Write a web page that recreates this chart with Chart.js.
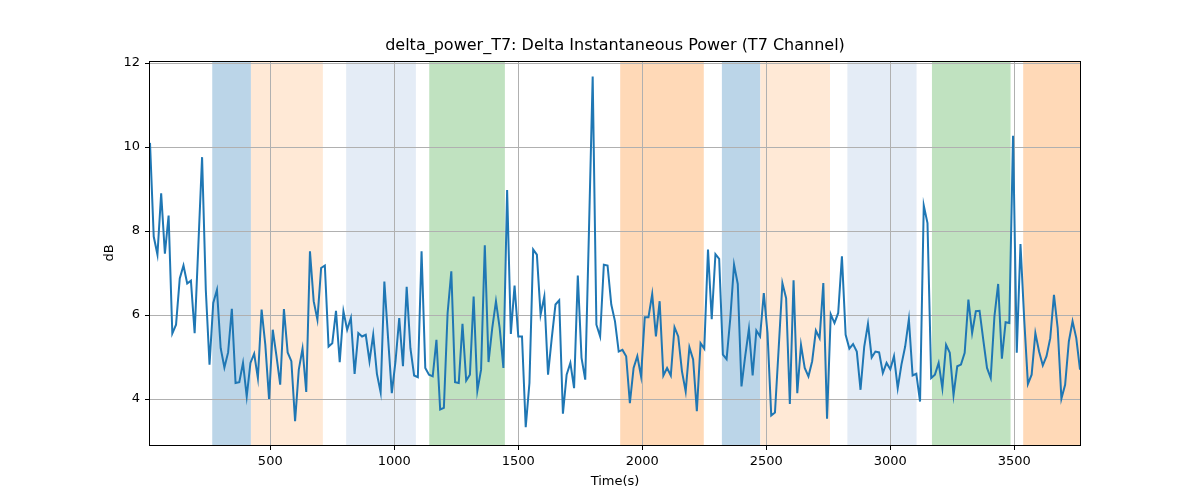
<!DOCTYPE html>
<html>
<head>
<meta charset="utf-8">
<script src="https://cdn.jsdelivr.net/npm/chart.js@4/dist/chart.umd.min.js"></script>
<style>
html,body{margin:0;padding:0;background:#fff;}
#wrap{width:1200px;height:500px;}
</style>
</head>
<body>
<div id="wrap"><canvas id="c" width="1200" height="500"></canvas></div>
<script>
// ---- data ----
const chartTitle = "delta_power_T7: Delta Instantaneous Power (T7 Channel)";
const xLabel = "Time(s)";
const yLabel = "dB";
const timeStart = 15;   // seconds, first sample
const timeStep = 15;    // seconds between samples
const deltaPower = [
  10.1, 7.87, 7.44, 8.9, 7.46, 8.37, 5.56, 5.77, 6.87, 7.18,
  6.75, 6.82, 5.57, 7.67, 9.76, 6.6, 4.82, 6.29, 6.6, 5.21,
  4.75, 5.11, 6.15, 4.38, 4.4, 4.86, 4.06, 4.86, 5.08, 4.5,
  6.13, 5.29, 4.0, 5.65, 5.02, 4.34, 6.14, 5.11, 4.9, 3.47,
  4.7, 5.2, 4.17, 7.52, 6.33, 5.89, 7.12, 7.18, 5.25, 5.33,
  6.1, 4.88, 6.09, 5.65, 5.93, 4.6, 5.57, 5.49, 5.53, 4.9,
  5.53, 4.6, 4.16, 6.8, 5.45, 4.14, 4.9, 5.93, 4.78, 6.67,
  5.21, 4.56, 4.52, 7.52, 4.74, 4.58, 4.54, 5.41, 3.75, 3.79,
  6.05, 7.04, 4.4, 4.38, 5.79, 4.44, 4.58, 6.44, 4.2, 4.7,
  7.66, 4.88, 5.69, 6.33, 5.69, 4.74, 8.98, 5.55, 6.7, 5.49,
  5.49, 3.33, 4.38, 7.56, 7.44, 6.01, 6.44, 4.58, 5.45, 6.25,
  6.35, 3.65, 4.58, 4.86, 4.26, 6.94, 4.98, 4.46, 8.0, 11.68,
  5.77, 5.49, 7.2, 7.18, 6.25, 5.85, 5.13, 5.17, 5.02, 3.9,
  4.74, 5.02, 4.54, 5.95, 5.95, 6.5, 5.49, 6.33, 4.56, 4.74,
  4.56, 5.71, 5.49, 4.66, 4.18, 5.23, 4.94, 3.71, 5.33, 5.2,
  7.56, 5.9, 7.45, 7.34, 5.06, 4.95, 5.93, 7.2, 6.74, 4.3,
  5.02, 5.67, 4.56, 5.63, 5.49, 6.52, 5.57, 3.61, 3.68, 5.21,
  6.76, 6.4, 3.88, 6.83, 4.14, 5.29, 4.74, 4.54, 4.9, 5.63,
  5.45, 6.76, 3.53, 6.02, 5.81, 6.05, 7.4, 5.53, 5.2, 5.31,
  5.13, 4.22, 5.25, 5.79, 4.99, 5.13, 5.11, 4.62, 4.86, 4.71,
  5.02, 4.26, 4.82, 5.25, 5.9, 4.56, 4.6, 3.94, 8.61, 8.19,
  4.5, 4.58, 4.86, 4.26, 5.29, 5.1, 4.09, 4.78, 4.82, 5.1,
  6.37, 5.57, 6.09, 6.1, 5.41, 4.74, 4.5, 5.97, 6.74, 4.96,
  5.83, 5.81, 10.27, 5.1, 7.69, 5.9, 4.36, 4.58, 5.57, 5.13,
  4.8, 5.02, 5.45, 6.48, 5.69, 4.01, 4.34, 5.37, 5.85, 5.45,
  4.7
];
const xTicks = [500, 1000, 1500, 2000, 2500, 3000, 3500];
const yTicks = [4, 6, 8, 10, 12];
const xLimits = [15, 3765];
const yLimits = [2.905, 12.05];
// shaded intervals (seconds) and their kind
const spanStarts = [266, 422, 806, 1141, 1911, 2321, 2476, 2827, 3168, 3536];
const spanEnds   = [422, 712, 1087, 1446, 2248, 2476, 2757, 3106, 3485, 3800];
const spanKinds  = ['A', 'B', 'C', 'D', 'E', 'A', 'B', 'C', 'D', 'E'];

// ---- styles ----
const spanColors = {
  A: 'rgb(187,213,232)',
  B: 'rgb(255,233,214)',
  C: 'rgb(228,236,246)',
  D: 'rgb(192,226,192)',
  E: 'rgb(255,217,183)'
};
const FONT = "'DejaVu Sans', 'Liberation Sans', sans-serif";
Chart.defaults.font.family = FONT;
Chart.defaults.color = '#000';

const points = deltaPower.map((v, i) => ({ x: timeStart + i * timeStep, y: v }));

const spanPlugin = {
  id: 'spans',
  beforeDraw(chart) {
    const { ctx, chartArea: a, scales: { x } } = chart;
    ctx.save();
    ctx.beginPath();
    ctx.rect(a.left, a.top, a.right - a.left, a.bottom - a.top);
    ctx.clip();
    for (let i = 0; i < spanStarts.length; i++) {
      const x0 = x.getPixelForValue(spanStarts[i]);
      const x1 = x.getPixelForValue(spanEnds[i]);
      ctx.fillStyle = spanColors[spanKinds[i]];
      ctx.fillRect(x0, a.top, x1 - x0, a.bottom - a.top);
    }
    ctx.restore();
  }
};
const framePlugin = {
  id: 'frame',
  afterDraw(chart) {
    const { ctx, chartArea: a } = chart;
    ctx.save();
    ctx.strokeStyle = '#000';
    ctx.lineWidth = 1;
    ctx.strokeRect(Math.round(a.left) - 0.5, Math.round(a.top) + 0.5,
                   Math.round(a.right - a.left) + 1, Math.round(a.bottom - a.top));
    ctx.restore();
  }
};

new Chart(document.getElementById('c'), {
  type: 'line',
  data: {
    datasets: [{
      data: points,
      borderColor: '#1f77b4',
      borderWidth: 2,
      pointRadius: 0,
      pointHoverRadius: 0,
      tension: 0,
      fill: false
    }]
  },
  options: {
    responsive: false,
    animation: false,
    devicePixelRatio: 1,
    events: [],
    layout: { padding: { left: 0, right: 120, top: 0, bottom: 0 } },
    plugins: {
      legend: { display: false },
      tooltip: { enabled: false },
      title: {
        display: true,
        fullSize: false,
        text: chartTitle,
        color: '#000',
        font: { family: FONT, size: 16, weight: 'normal', lineHeight: 1.2 },
        padding: { top: 36, bottom: 5.8 }
      }
    },
    scales: {
      x: {
        type: 'linear',
        min: xLimits[0],
        max: xLimits[1],
        afterFit(s) { s.height = 55; },
        afterBuildTicks(s) { s.ticks = xTicks.map(v => ({ value: v })); },
        ticks: {
          autoSkip: false, maxRotation: 0, minRotation: 0,
          padding: 4, color: '#000',
          font: { family: FONT, size: 13 },
          callback: v => String(v)
        },
        grid: { color: '#b0b0b0', lineWidth: 1, tickColor: '#000', tickLength: 5, drawTicks: true },
        border: { display: false },
        title: {
          display: true, text: xLabel, color: '#000',
          font: { family: FONT, size: 13, lineHeight: 1.2 },
          padding: { top: 0, bottom: 11 }
        }
      },
      y: {
        type: 'linear',
        min: yLimits[0],
        max: yLimits[1],
        afterFit(s) { s.width = 150; },
        afterBuildTicks(s) { s.ticks = yTicks.map(v => ({ value: v })); },
        ticks: {
          padding: 5, color: '#000',
          font: { family: FONT, size: 13 },
          callback: v => String(v)
        },
        grid: { color: '#b0b0b0', lineWidth: 1, tickColor: '#000', tickLength: 5, drawTicks: true },
        border: { display: false },
        title: {
          display: true, text: yLabel, color: '#000',
          font: { family: FONT, size: 13, lineHeight: 1.2 },
          padding: { top: 102, bottom: 0 }
        }
      }
    }
  },
  plugins: [spanPlugin, framePlugin]
});
</script>
</body>
</html>
